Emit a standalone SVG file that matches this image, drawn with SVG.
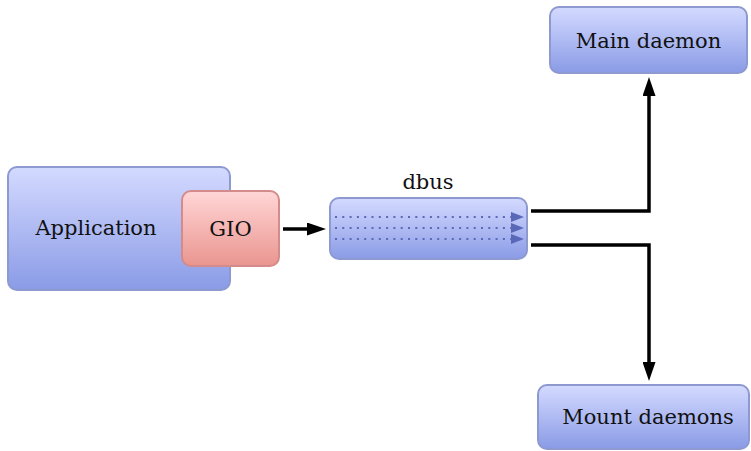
<svg xmlns="http://www.w3.org/2000/svg" width="751" height="451" viewBox="0 0 751 451">
<defs>
<linearGradient id="gBlue" x1="0" y1="0" x2="0" y2="1">
<stop offset="0" stop-color="#d4daff"/>
<stop offset="1" stop-color="#8a9be6"/>
</linearGradient>
<linearGradient id="gRed" x1="0" y1="0" x2="0" y2="1">
<stop offset="0" stop-color="#ffd6d6"/>
<stop offset="1" stop-color="#ea958f"/>
</linearGradient>
<marker id="arr" viewBox="0 0 19 13" refX="9" refY="6.5" markerWidth="19" markerHeight="13" markerUnits="userSpaceOnUse" orient="auto">
<path d="M0,0 L19,6.5 L0,13 Z" fill="#000"/>
</marker>
<marker id="arrB" viewBox="0 0 13 10" refX="13" refY="5" markerWidth="13" markerHeight="10" markerUnits="userSpaceOnUse" orient="auto">
<path d="M0,0 L13,5 L0,10 Z" fill="#5a68b8"/>
</marker>
</defs>
<style>
.box{fill:url(#gBlue);stroke:#8d99cf;stroke-width:2}
.red{fill:url(#gRed);stroke:#d48b8b;stroke-width:2}
text{font-family:"DejaVu Serif","Liberation Serif",serif;font-size:21px;fill:#111;text-anchor:middle}
.con{fill:none;stroke:#000;stroke-width:3.5;marker-end:url(#arr)}
.dot{stroke:#5a68b8;stroke-width:2;stroke-dasharray:2 5.3;marker-end:url(#arrB)}
</style>
<g id="application">
<rect class="box" x="8" y="167" width="222" height="123" rx="9"/>
<text x="96" y="235">Application</text>
</g>
<g id="gio">
<rect class="red" x="182" y="191" width="97" height="75" rx="9"/>
<text x="230.5" y="236">GIO</text>
</g>
<g id="dbus">
<text x="428" y="189">dbus</text>
<rect class="box" x="330" y="198" width="197" height="61" rx="9"/>
<line class="dot" x1="335" y1="217" x2="524" y2="217"/>
<line class="dot" x1="335" y1="228" x2="524" y2="228"/>
<line class="dot" x1="335" y1="239" x2="524" y2="239"/>
</g>
<g id="main-daemon">
<rect class="box" x="550" y="7" width="197" height="66" rx="9"/>
<text x="648.5" y="48">Main daemon</text>
</g>
<g id="mount-daemons">
<rect class="box" x="538" y="385" width="211" height="64" rx="9"/>
<text x="648" y="424">Mount daemons</text>
</g>
<g id="connectors">
<path class="con" d="M283,229 H316"/>
<path class="con" d="M531,211 H649 V87"/>
<path class="con" d="M531,245 H649 V371"/>
</g>
</svg>
